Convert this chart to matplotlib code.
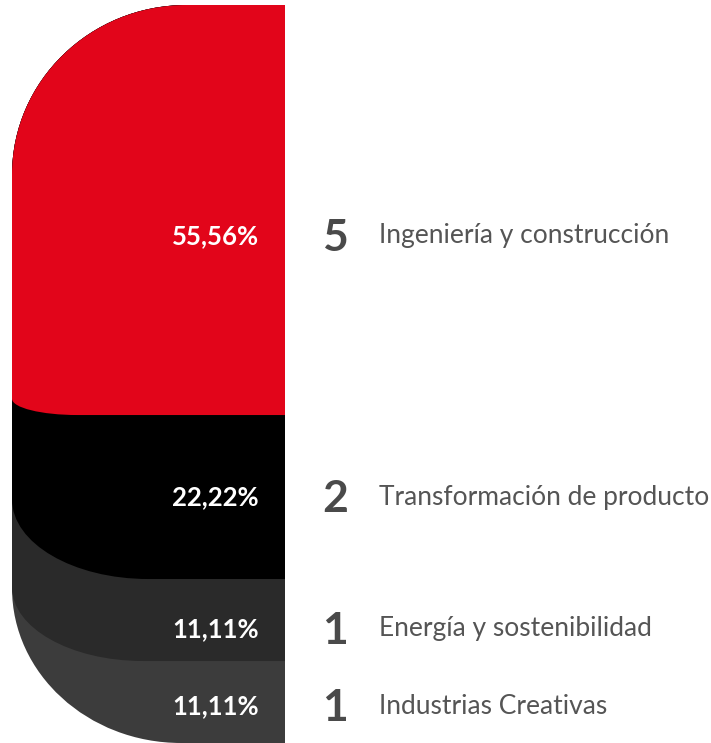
import numpy as np
import matplotlib
matplotlib.use("Agg")
from matplotlib import pyplot as plt
from matplotlib.path import Path
from matplotlib.patches import PathPatch

# data
categories = ["Ingeniería y construcción", "Transformación de producto",
              "Energía y sostenibilidad", "Industrias Creativas"]
counts = [5, 2, 1, 1]
shares = [55.56, 22.22, 11.11, 11.11]
pct_labels = ["55,56%", "22,22%", "11,11%", "11,11%"]

# style
colors = ["#e2051a", "#000000", "#2a2a2a", "#3c3c3c"]
# bottom-left corner radii of each layer (x in bar widths, y in %)
bottom_rx = [0.24, 0.50, 0.48, 0.62]
bottom_ry = [2.2, 10.8, 10.0, 21.0]
top_rx, top_ry = 0.64, 23.0
label_shift = [3.5, 0.0, 1.2, 0.55]  # nudges in %
K = 0.5523


def layer_path(bottom, rx_b, ry_b):
    verts = [
        (1, 0), (top_rx, 0),
        (top_rx * (1 - K), 0), (0, top_ry * (1 - K)), (0, top_ry),
        (0, bottom - ry_b),
        (0, bottom - ry_b * (1 - K)), (rx_b * (1 - K), bottom), (rx_b, bottom),
        (1, bottom), (1, 0),
    ]
    codes = [Path.MOVETO, Path.LINETO,
             Path.CURVE4, Path.CURVE4, Path.CURVE4,
             Path.LINETO,
             Path.CURVE4, Path.CURVE4, Path.CURVE4,
             Path.LINETO, Path.CLOSEPOLY]
    return Path(verts, codes)


fig = plt.figure(figsize=(7.11, 7.43), dpi=100)
ax = fig.add_axes([12 / 711, 0, 273 / 711, 738 / 743])
ax.set_xlim(0, 1)
ax.set_ylim(100, 0)
ax.axis("off")

ends = np.cumsum(shares)
starts = ends - np.array(shares)

# draw from the bottom layer up so the upper ones overlap
for i in reversed(range(len(shares))):
    patch = PathPatch(layer_path(ends[i], bottom_rx[i], bottom_ry[i]),
                      facecolor=colors[i], edgecolor="none", zorder=len(shares) - i)
    ax.add_patch(patch)

for i in range(len(shares)):
    y = (starts[i] + ends[i]) / 2 + label_shift[i]
    ax.text(0.905, y, pct_labels[i], color="white", fontsize=18.5, fontweight="bold",
            family="Lato", ha="right", va="center", zorder=10)
    ax.text(1.183, y + 0.3, str(counts[i]), color="#4a4a4a", fontsize=32, fontweight="bold",
            family="Lato", ha="center", va="center", clip_on=False)
    ax.text(1.344, y, categories[i], color="#555555", fontsize=19,
            family="Lato", ha="left", va="center", clip_on=False)

fig.savefig("out.png", dpi=100)
